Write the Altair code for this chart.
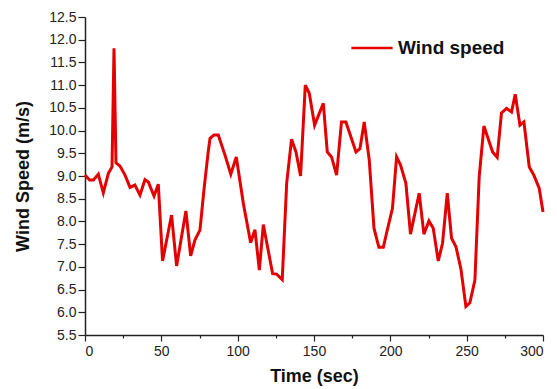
import altair as alt
import pandas as pd

time_s = [0, 3, 5.5, 8.7, 12, 15.3, 17.7, 19, 20.3, 22.9, 26.2, 29.5, 32.7, 36, 39.3, 41.5,
          45.2, 48, 50.8, 56.7, 60, 66.1, 69.2, 72, 75.3, 77.9, 80.7, 81.9, 84.5, 87.3, 91.7,
          95.5, 99.1, 103.7, 108.5, 111.3, 114.2, 116.8, 122.9, 125.5, 129.2, 132.1, 135.3,
          138.2, 141.2, 144.3, 146.9, 150.4, 156.1, 158.7, 161.5, 164.8, 168, 170.9, 177.5,
          180.1, 182.9, 186.2, 189.3, 192.5, 195.4, 197.5, 201.4, 204.1, 206.7, 210.2, 213.2,
          218.9, 222, 225.3, 228.1, 231.4, 234.2, 237.3, 240.1, 243, 246.2, 249.5, 252.1,
          255.4, 258.2, 261.3, 267, 270, 272.8, 276.1, 279.4, 281.8, 284.9, 287.5, 291, 294,
          297.5, 300]
wind = [9.02, 8.91, 8.91, 9.04, 8.63, 9.06, 9.2, 11.81, 9.29, 9.22, 9.02, 8.75, 8.8, 8.58,
        8.92, 8.87, 8.56, 8.82, 7.13, 8.14, 7.02, 8.23, 7.24, 7.59, 7.81, 8.69, 9.53, 9.83,
        9.9, 9.9, 9.46, 9.04, 9.42, 8.4, 7.53, 7.82, 6.93, 7.93, 6.85, 6.84, 6.72, 8.84, 9.81,
        9.53, 9.0, 11.0, 10.82, 10.12, 10.6, 9.53, 9.42, 9.02, 10.19, 10.19, 9.53, 9.6, 10.19,
        9.35, 7.85, 7.43, 7.43, 7.74, 8.29, 9.42, 9.24, 8.84, 7.72, 8.62, 7.72, 8.01, 7.85,
        7.13, 7.52, 8.62, 7.63, 7.44, 6.96, 6.13, 6.21, 6.71, 8.98, 10.1, 9.53, 9.41, 10.39,
        10.49, 10.41, 10.8, 10.12, 10.19, 9.2, 9.02, 8.73, 8.21]

x_ticks = list(range(0, 301, 25))
y_ticks = [5.5 + 0.5 * i for i in range(15)]

df = pd.DataFrame({"t": time_s, "w": wind, "series": "Wind speed"})

font = "Liberation Sans"

chart = alt.Chart(df).mark_line(strokeWidth=3).encode(
    x=alt.X("t:Q", scale=alt.Scale(domain=[0, 300], nice=False),
            axis=alt.Axis(values=x_ticks, title="Time (sec)",
                          labelExpr="datum.value % 50 === 0 ? datum.label : ''",
                          tickSize={"condition": {"test": "datum.value % 50 === 0", "value": 6}, "value": 3},
                          labelOverlap=False)),
    y=alt.Y("w:Q", scale=alt.Scale(domain=[5.5, 12.5], nice=False, zero=False),
            axis=alt.Axis(values=y_ticks, format=".1f", title="Wind Speed (m/s)", titlePadding=16)),
    color=alt.Color("series:N", scale=alt.Scale(range=["#e30000"]),
                    legend=alt.Legend(title=None, orient="none", legendX=265, legendY=9,
                                      symbolType="stroke", symbolSize=1700, symbolStrokeWidth=2.5,
                                      labelFontSize=19, labelFontWeight="bold", labelFont=font,
                                      labelColor="#111", labelOffset=4)),
).properties(
    width=458, height=318,
    autosize=alt.AutoSizeParams(type="none"),
    padding={"left": 85, "top": 17, "right": 14, "bottom": 54},
).configure_view(stroke=None).configure_axis(
    grid=False, domainColor="#222", domainWidth=1.5, tickColor="#222", tickWidth=1.2,
    labelFont=font, labelFontSize=14, labelColor="#222",
    titleFont=font, titleFontSize=18, titleFontWeight="bold", titleColor="#111",
).configure_axisY(tickSize=7, labelPadding=2).configure_axisX(labelPadding=3, titlePadding=9)

chart.save("out.html", embed_options={"renderer": "svg", "actions": False})
